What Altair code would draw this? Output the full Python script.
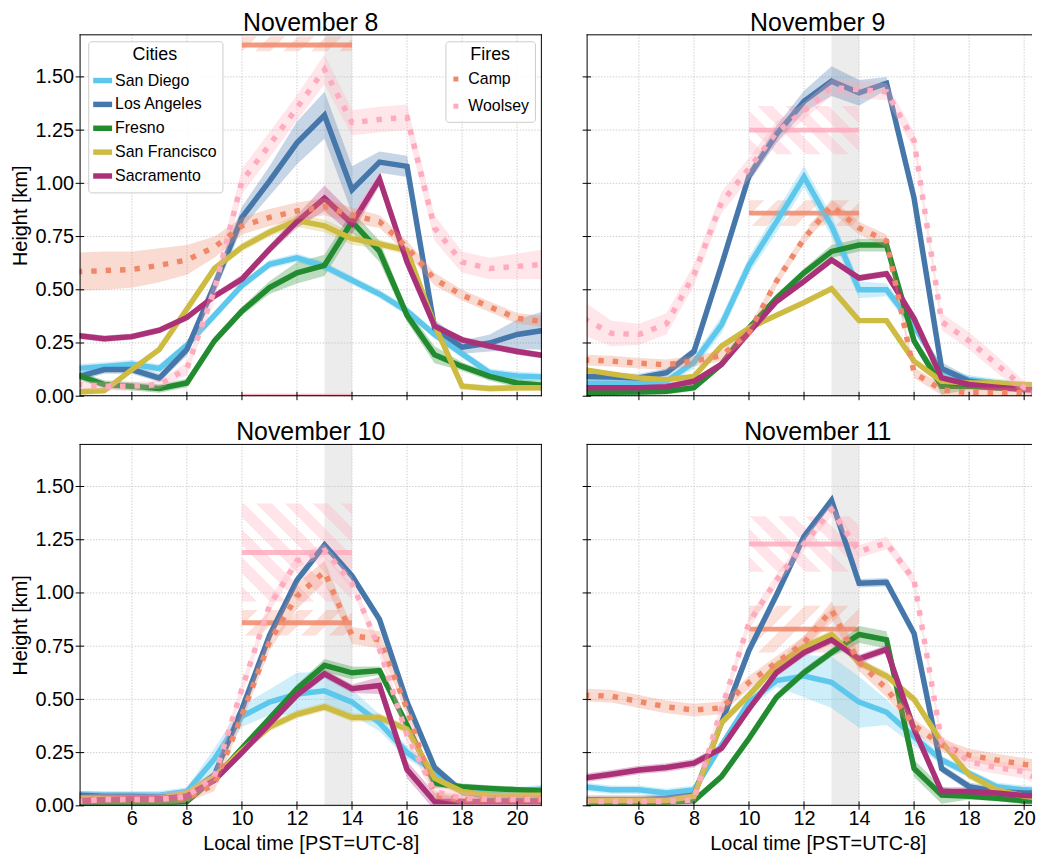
import math
import altair as alt
import pandas as pd

HOURS = list(range(4, 22))
DAYS = ["November 8", "November 9", "November 10", "November 11"]
CITIES = ["San Diego", "Los Angeles", "Fresno", "San Francisco", "Sacramento"]
FIRES = ["Camp", "Woolsey"]
CITY_COLORS = ["#5ec8ec", "#4677ab", "#228b30", "#cdbb42", "#aa3078"]
FIRE_COLORS = ["#f08769", "#ffabbe"]
FIRE_HATCH = ["rgba(240,135,105,0.25)", "rgba(255,171,190,0.32)"]
FIRE_HATCH_DIR = ["/", "\\"]

X_TICKS = [6, 8, 10, 12, 14, 16, 18, 20]
Y_TICKS = [0.0, 0.25, 0.5, 0.75, 1.0, 1.25, 1.5]
NOON_BAND = [13, 14]
FIRE_WINDOW = [10, 14]

# ---- values (hours 4..21) ----
NOV8 = {
    "San Diego":     [0.13, 0.14, 0.15, 0.13, 0.24, 0.38, 0.52, 0.62, 0.65, 0.61, 0.545, 0.48, 0.40, 0.29, 0.20, 0.11, 0.095, 0.09],
    "Los Angeles":   [0.09, 0.125, 0.125, 0.085, 0.22, 0.52, 0.84, 1.01, 1.19, 1.32, 0.97, 1.10, 1.08, 0.32, 0.23, 0.25, 0.29, 0.31],
    "Fresno":        [0.10, 0.055, 0.047, 0.036, 0.062, 0.26, 0.40, 0.51, 0.58, 0.615, 0.82, 0.68, 0.38, 0.195, 0.14, 0.093, 0.062, 0.05],
    "San Francisco": [0.02, 0.026, 0.125, 0.22, 0.41, 0.60, 0.70, 0.77, 0.825, 0.80, 0.74, 0.715, 0.685, 0.335, 0.047, 0.036, 0.04, 0.04],
    "Sacramento":    [0.285, 0.27, 0.28, 0.31, 0.37, 0.47, 0.55, 0.69, 0.82, 0.93, 0.81, 1.02, 0.63, 0.33, 0.265, 0.235, 0.21, 0.19],
    "Camp":          [0.585, 0.59, 0.595, 0.615, 0.64, 0.70, 0.80, 0.84, 0.87, 0.89, 0.85, 0.82, 0.70, 0.55, 0.475, 0.42, 0.366, 0.35],
    "Woolsey":       [0.055, 0.047, 0.047, 0.055, 0.13, 0.50, 1.01, 1.18, 1.355, 1.535, 1.285, 1.30, 1.31, 0.79, 0.63, 0.60, 0.61, 0.62],
}
NOV9 = {
    "San Diego":     [0.06, 0.06, 0.06, 0.07, 0.16, 0.335, 0.615, 0.82, 1.03, 0.80, 0.50, 0.50, 0.33, 0.12, 0.078, 0.062, 0.047, 0.04],
    "Los Angeles":   [0.093, 0.09, 0.086, 0.11, 0.21, 0.615, 1.035, 1.23, 1.385, 1.48, 1.425, 1.47, 0.93, 0.13, 0.07, 0.055, 0.04, 0.035],
    "Fresno":        [0.016, 0.018, 0.02, 0.023, 0.04, 0.15, 0.32, 0.46, 0.58, 0.68, 0.71, 0.71, 0.26, 0.047, 0.047, 0.04, 0.04, 0.04],
    "San Francisco": [0.125, 0.105, 0.086, 0.078, 0.093, 0.235, 0.32, 0.38, 0.44, 0.505, 0.355, 0.355, 0.165, 0.07, 0.062, 0.062, 0.055, 0.05],
    "Sacramento":    [0.04, 0.04, 0.04, 0.045, 0.07, 0.15, 0.30, 0.445, 0.54, 0.64, 0.555, 0.575, 0.365, 0.086, 0.055, 0.042, 0.031, 0.03],
    "Camp":          [0.17, 0.165, 0.155, 0.148, 0.165, 0.19, 0.30, 0.54, 0.74, 0.895, 0.79, 0.73, 0.11, 0.03, 0.016, 0.016, 0.016, 0.015],
    "Woolsey":       [0.365, 0.295, 0.29, 0.34, 0.57, 0.91, 1.07, 1.24, 1.34, 1.45, 1.44, 1.43, 1.20, 0.35, 0.26, 0.15, 0.04, 0.03],
}
NOV10 = {
    "San Diego":     [0.05, 0.05, 0.05, 0.05, 0.067, 0.22, 0.42, 0.487, 0.525, 0.54, 0.487, 0.39, 0.25, 0.16, 0.067, 0.06, 0.067, 0.08],
    "Los Angeles":   [0.05, 0.045, 0.045, 0.04, 0.05, 0.145, 0.455, 0.80, 1.06, 1.225, 1.08, 0.875, 0.487, 0.18, 0.067, 0.045, 0.03, 0.03],
    "Fresno":        [0.012, 0.015, 0.015, 0.015, 0.02, 0.13, 0.27, 0.41, 0.55, 0.66, 0.625, 0.635, 0.38, 0.105, 0.09, 0.082, 0.075, 0.07],
    "San Francisco": [0.036, 0.035, 0.035, 0.035, 0.06, 0.137, 0.26, 0.37, 0.43, 0.465, 0.415, 0.415, 0.36, 0.13, 0.067, 0.05, 0.05, 0.05],
    "Sacramento":    [0.023, 0.03, 0.033, 0.033, 0.045, 0.12, 0.25, 0.385, 0.52, 0.62, 0.55, 0.565, 0.17, 0.02, 0.02, 0.02, 0.02, 0.02],
    "Camp":          [0.03, 0.03, 0.03, 0.03, 0.035, 0.10, 0.425, 0.77, 0.985, 1.10, 0.80, 0.78, 0.455, 0.05, 0.03, 0.03, 0.03, 0.03],
    "Woolsey":       [0.02, 0.03, 0.03, 0.03, 0.045, 0.137, 0.55, 0.94, 1.15, 1.20, 1.046, 0.735, 0.33, 0.067, 0.036, 0.03, 0.03, 0.03],
}
NOV11 = {
    "San Diego":     [0.09, 0.075, 0.075, 0.06, 0.075, 0.285, 0.487, 0.588, 0.61, 0.58, 0.487, 0.44, 0.323, 0.215, 0.152, 0.09, 0.075, 0.07],
    "Los Angeles":   [0.028, 0.028, 0.028, 0.036, 0.05, 0.39, 0.73, 0.99, 1.265, 1.435, 1.046, 1.05, 0.81, 0.175, 0.09, 0.067, 0.06, 0.06],
    "Fresno":        [0.016, 0.016, 0.016, 0.018, 0.023, 0.137, 0.316, 0.51, 0.626, 0.72, 0.805, 0.78, 0.175, 0.05, 0.045, 0.036, 0.023, 0.02],
    "San Francisco": [0.023, 0.025, 0.025, 0.025, 0.045, 0.39, 0.52, 0.66, 0.745, 0.805, 0.673, 0.61, 0.50, 0.30, 0.145, 0.075, 0.045, 0.03],
    "Sacramento":    [0.13, 0.148, 0.168, 0.18, 0.20, 0.27, 0.455, 0.626, 0.72, 0.78, 0.69, 0.735, 0.36, 0.067, 0.067, 0.06, 0.048, 0.045],
    "Camp":          [0.52, 0.515, 0.49, 0.465, 0.45, 0.46, 0.58, 0.673, 0.766, 0.92, 0.673, 0.55, 0.378, 0.285, 0.238, 0.215, 0.195, 0.18],
    "Woolsey":       [0.02, 0.02, 0.02, 0.02, 0.028, 0.455, 0.86, 1.06, 1.23, 1.39, 1.195, 1.235, 1.06, 0.30, 0.207, 0.18, 0.16, 0.09],
}

# ---- half-widths of the uncertainty bands ----
SPREAD8 = {
    "San Diego": 0.02,
    "Los Angeles":   [0.02, 0.02, 0.02, 0.02, 0.03, 0.04, 0.05, 0.07, 0.10, 0.11, 0.11, 0.05, 0.05, 0.04, 0.03, 0.04, 0.07, 0.09],
    "Fresno":        [0.02, 0.02, 0.02, 0.02, 0.02, 0.02, 0.02, 0.03, 0.05, 0.05, 0.05, 0.05, 0.03, 0.04, 0.02, 0.02, 0.02, 0.02],
    "San Francisco": [0.015, 0.015, 0.015, 0.015, 0.015, 0.015, 0.02, 0.02, 0.03, 0.03, 0.03, 0.02, 0.02, 0.015, 0.015, 0.015, 0.015, 0.015],
    "Sacramento":    [0.015, 0.015, 0.015, 0.015, 0.015, 0.015, 0.02, 0.02, 0.03, 0.06, 0.05, 0.03, 0.02, 0.015, 0.015, 0.015, 0.015, 0.015],
    "Camp":          [0.09, 0.09, 0.085, 0.08, 0.07, 0.05, 0.04, 0.04, 0.04, 0.04, 0.035, 0.03, 0.03, 0.03, 0.025, 0.025, 0.025, 0.025],
    "Woolsey":       [0.02, 0.02, 0.02, 0.02, 0.03, 0.05, 0.06, 0.06, 0.06, 0.07, 0.06, 0.06, 0.06, 0.06, 0.05, 0.05, 0.06, 0.07],
}
SPREAD9 = {
    "San Diego":     [0.02, 0.02, 0.02, 0.02, 0.03, 0.04, 0.04, 0.05, 0.05, 0.05, 0.04, 0.03, 0.03, 0.02, 0.02, 0.02, 0.02, 0.02],
    "Los Angeles":   [0.02, 0.02, 0.02, 0.02, 0.02, 0.03, 0.03, 0.04, 0.05, 0.07, 0.06, 0.03, 0.03, 0.03, 0.02, 0.02, 0.02, 0.02],
    "Fresno":        [0.015, 0.015, 0.015, 0.015, 0.015, 0.015, 0.02, 0.02, 0.02, 0.03, 0.03, 0.03, 0.02, 0.04, 0.015, 0.015, 0.015, 0.015],
    "San Francisco": 0.01,
    "Sacramento": 0.015,
    "Camp":          [0.025, 0.025, 0.025, 0.025, 0.025, 0.025, 0.025, 0.025, 0.025, 0.03, 0.03, 0.03, 0.025, 0.025, 0.025, 0.025, 0.025, 0.025],
    "Woolsey":       [0.08, 0.06, 0.05, 0.05, 0.05, 0.05, 0.05, 0.05, 0.04, 0.04, 0.04, 0.04, 0.04, 0.04, 0.04, 0.04, 0.03, 0.03],
}
SPREAD10 = {
    "San Diego":     [0.02, 0.02, 0.02, 0.02, 0.02, 0.05, 0.05, 0.06, 0.10, 0.09, 0.06, 0.04, 0.03, 0.02, 0.02, 0.02, 0.02, 0.02],
    "Los Angeles": 0.02,
    "Fresno":        [0.015, 0.015, 0.015, 0.015, 0.015, 0.015, 0.02, 0.02, 0.02, 0.03, 0.03, 0.02, 0.02, 0.02, 0.015, 0.015, 0.015, 0.015],
    "San Francisco": 0.02,
    "Sacramento":    [0.015, 0.015, 0.015, 0.015, 0.015, 0.015, 0.02, 0.02, 0.02, 0.02, 0.02, 0.04, 0.04, 0.04, 0.015, 0.015, 0.015, 0.015],
    "Camp":          [0.02, 0.02, 0.02, 0.02, 0.02, 0.03, 0.03, 0.04, 0.06, 0.05, 0.04, 0.04, 0.03, 0.02, 0.02, 0.02, 0.02, 0.02],
    "Woolsey": 0.03,
}
SPREAD11 = {
    "San Diego":     [0.02, 0.02, 0.02, 0.02, 0.02, 0.02, 0.03, 0.03, 0.10, 0.12, 0.12, 0.06, 0.04, 0.02, 0.02, 0.02, 0.02, 0.02],
    "Los Angeles": 0.02,
    "Fresno":        [0.015, 0.015, 0.015, 0.015, 0.015, 0.015, 0.02, 0.02, 0.02, 0.02, 0.04, 0.04, 0.04, 0.04, 0.015, 0.015, 0.015, 0.015],
    "San Francisco": 0.02,
    "Sacramento": 0.02,
    "Camp":          [0.03, 0.03, 0.03, 0.03, 0.03, 0.03, 0.03, 0.03, 0.03, 0.04, 0.04, 0.04, 0.03, 0.03, 0.03, 0.03, 0.03, 0.03],
    "Woolsey": 0.03,
}

# ---- fire plume heights over 10-14 h: (value, low, high) ----
FIRE_BARS = {
    "November 8":  {"Camp": (1.65, 1.62, 1.69), "Woolsey": (0.0, 0.0, 0.0)},
    "November 9":  {"Camp": (0.86, 0.80, 0.92), "Woolsey": (1.25, 1.137, 1.363)},
    "November 10": {"Camp": (0.86, 0.80, 0.92), "Woolsey": (1.19, 0.96, 1.42)},
    "November 11": {"Camp": (0.83, 0.72, 0.94), "Woolsey": (1.23, 1.10, 1.36)},
}

VALUES = [NOV8, NOV9, NOV10, NOV11]
SPREADS = [SPREAD8, SPREAD9, SPREAD10, SPREAD11]

rows = []
for day, vals, spr in zip(DAYS, VALUES, SPREADS):
    for s, arr in vals.items():
        sp = spr[s]
        if not isinstance(sp, list):
            sp = [sp] * len(HOURS)
        for h, v, e in zip(HOURS, arr, sp):
            rows.append(dict(day=day, series=s, hour=h, value=v, lo=v - e, hi=v + e))
df = pd.DataFrame(rows)

# ---- layout ----
H = 364
W_LEFT = 465
W_RIGHT = 448
X0, X1 = 4.1, 20.9
PX_HR = W_LEFT / (X1 - X0)
PX_KM = H / 1.7
FONT = "Liberation Sans"

city_scale = alt.Scale(domain=CITIES, range=CITY_COLORS)
fire_scale = alt.Scale(domain=FIRES, range=FIRE_COLORS)

LEG_COMMON = dict(
    orient="none", labelFontSize=16, titleFontSize=18, titleFontWeight="normal",
    titleAnchor="middle", titleAlign="center", padding=5,
    fillColor="rgba(255,255,255,0.85)", strokeColor="#cccccc", cornerRadius=3,
    labelFont=FONT, titleFont=FONT, labelColor="black", titleColor="black",
)
cities_legend = alt.Legend(
    title="Cities", legendX=8.7, legendY=7,
    symbolType="stroke", symbolStrokeWidth=5.5, symbolSize=361, symbolOffset=-3,
    rowPadding=-1.7, titlePadding=4, labelOffset=0, **LEG_COMMON,
)
fires_legend = alt.Legend(
    title="Fires", legendX=368, legendY=7,
    symbolType="stroke", symbolStrokeWidth=5, symbolSize=100,
    symbolDash=[5, 30], rowPadding=7.3, titlePadding=7, labelOffset=2,
    **LEG_COMMON,
)


def hatch(color, w, h, direction, period=20.0, frac=0.55):
    t = (w + h) / (w * w + h * h)
    if direction == "\\":
        x1, y1, x2, y2 = 0.0, 1.0, t * w, 1.0 - t * h
    else:
        x1, y1, x2, y2 = 0.0, 0.0, t * w, t * h
    ext = (w + h) / math.sqrt(2)
    n = ext / period
    clear = "rgba(255,255,255,0)"
    stops = []
    k = 0
    while k < n:
        a = k / n
        b = min((k + frac) / n, 1.0)
        c = min((k + 1) / n, 1.0)
        stops += [(a, color), (b, color), (b, clear), (c, clear)]
        k += 1
    return alt.LinearGradient(
        gradient="linear",
        stops=[alt.GradientStop(offset=o, color=col) for o, col in stops],
        x1=x1, y1=y1, x2=x2, y2=y2,
    )


def panel(i):
    day = DAYS[i]
    col, row = i % 2, i // 2
    W = W_LEFT if col == 0 else W_RIGHT
    xmax = X0 + W / PX_HR
    xscale = alt.Scale(domain=[X0, xmax], nice=False, zero=False)
    yscale = alt.Scale(domain=[0, 1.7], nice=False)
    if row == 1:
        xaxis = alt.Axis(values=X_TICKS, format="d", title="Local time [PST=UTC-8]",
                         ticks=False, domain=False, grid=False, labelPadding=3,
                         titlePadding=5, labelFlush=False, titleX=W_LEFT / 2)
    else:
        xaxis = None
    if col == 0:
        yaxis = alt.Axis(values=Y_TICKS, format=".2f", title="Height [km]",
                         ticks=False, domain=False, grid=False, labelPadding=6,
                         titlePadding=4)
    else:
        yaxis = None

    def X(f):
        return alt.X(f, type="quantitative", scale=xscale, axis=xaxis)

    def Y(f):
        return alt.Y(f, type="quantitative", scale=yscale, axis=yaxis)

    d = df[df.day == day]
    layers = []
    # noon band
    layers.append(alt.Chart(pd.DataFrame({"start": [NOON_BAND[0]], "end": [NOON_BAND[1]]}))
                  .mark_rect(color="#ececec")
                  .encode(x=X("start"), x2="end", y=alt.value(0), y2=alt.value(H)))
    # grid
    layers.append(alt.Chart(pd.DataFrame({"t": X_TICKS}))
                  .mark_rule(color="#c4c4c4", strokeDash=[1.5, 1.5], strokeWidth=0.8)
                  .encode(x=X("t")))
    layers.append(alt.Chart(pd.DataFrame({"t": Y_TICKS}))
                  .mark_rule(color="#c4c4c4", strokeDash=[1.5, 1.5], strokeWidth=0.8)
                  .encode(y=Y("t")))
    # fire plume hatch and bars
    for f, colr, hcol, hdir in zip(FIRES, FIRE_COLORS, FIRE_HATCH, FIRE_HATCH_DIR):
        v, lo, hi = FIRE_BARS[day][f]
        bar = pd.DataFrame({"start": [FIRE_WINDOW[0]], "end": [FIRE_WINDOW[1]],
                            "value": [v], "lo": [lo], "hi": [hi]})
        if hi - lo > 0.005:
            w = (FIRE_WINDOW[1] - FIRE_WINDOW[0]) * PX_HR
            h = (hi - lo) * PX_KM
            layers.append(alt.Chart(bar)
                          .mark_rect(fill=hatch(hcol, w, h, hdir), clip=True)
                          .encode(x=X("start"), x2="end", y=Y("lo"), y2="hi"))
        layers.append(alt.Chart(bar)
                      .mark_rule(color=colr, strokeWidth=5, opacity=0.85, clip=True)
                      .encode(x=X("start"), x2="end", y=Y("value")))
    # city bands
    for c, colr in zip(CITIES, CITY_COLORS):
        layers.append(alt.Chart(d[d.series == c])
                      .mark_area(color=colr, opacity=0.3, clip=True)
                      .encode(x=X("hour"), y=Y("lo"), y2="hi"))
    # city lines
    layers.append(alt.Chart(d[d.series.isin(CITIES)])
                  .mark_line(strokeWidth=5.5, clip=True, strokeJoin="miter")
                  .encode(x=X("hour"), y=Y("value"),
                          color=alt.Color("series:N", scale=city_scale, legend=cities_legend,
                                          sort=CITIES)))
    # fire bands
    for f, colr in zip(FIRES, FIRE_COLORS):
        layers.append(alt.Chart(d[d.series == f])
                      .mark_area(color=colr, opacity=0.3, clip=True)
                      .encode(x=X("hour"), y=Y("lo"), y2="hi"))
    # fire lines
    layers.append(alt.Chart(d[d.series.isin(FIRES)])
                  .mark_line(strokeWidth=5.5, strokeDash=[5.5, 9], clip=True)
                  .encode(x=X("hour"), y=Y("value"),
                          stroke=alt.Stroke("series:N", scale=fire_scale, legend=fires_legend,
                                            sort=FIRES)))
    # in-out ticks
    layers.append(alt.Chart(pd.DataFrame({"t": X_TICKS}))
                  .mark_rule(color="black", strokeWidth=1)
                  .encode(x=X("t"), y=alt.value(H - 4.5), y2=alt.value(H + 4)))
    layers.append(alt.Chart(pd.DataFrame({"t": Y_TICKS}))
                  .mark_rule(color="black", strokeWidth=1)
                  .encode(y=Y("t"), x=alt.value(-4), x2=alt.value(4.5)))
    # frame (right edge of the right-hand panels lies outside the picture)
    one = pd.DataFrame({"k": [0]})
    layers.append(alt.Chart(one).mark_rule(color="black", strokeWidth=1).encode(y=alt.value(0.5)))
    layers.append(alt.Chart(one).mark_rule(color="black", strokeWidth=1).encode(y=alt.value(H - 0.5)))
    layers.append(alt.Chart(one).mark_rule(color="black", strokeWidth=1).encode(x=alt.value(0.5)))
    if col == 0:
        layers.append(alt.Chart(one).mark_rule(color="black", strokeWidth=1).encode(x=alt.value(W - 0.5)))

    return alt.layer(*layers).properties(
        width=W, height=H,
        title=alt.TitleParams(text=day, fontSize=25, fontWeight="normal", font=FONT,
                              color="black", anchor="middle", offset=-2,
                              dx=(W_LEFT - W) / 2),
    )


top = alt.hconcat(panel(0), panel(1), spacing=39)
bottom = alt.hconcat(panel(2), panel(3), spacing=39)
chart = (
    alt.vconcat(top, bottom, spacing=14)
    .properties(padding={"left": 3, "top": 0, "right": 0, "bottom": 0})
    .configure(font=FONT)
    .configure_view(stroke=None)
    .configure_axis(labelFontSize=20, titleFontSize=20, titleFontWeight="normal",
                    labelColor="black", titleColor="black", labelFont=FONT, titleFont=FONT)
)

chart.save("out.html", embed_options={"renderer": "svg", "actions": False})
